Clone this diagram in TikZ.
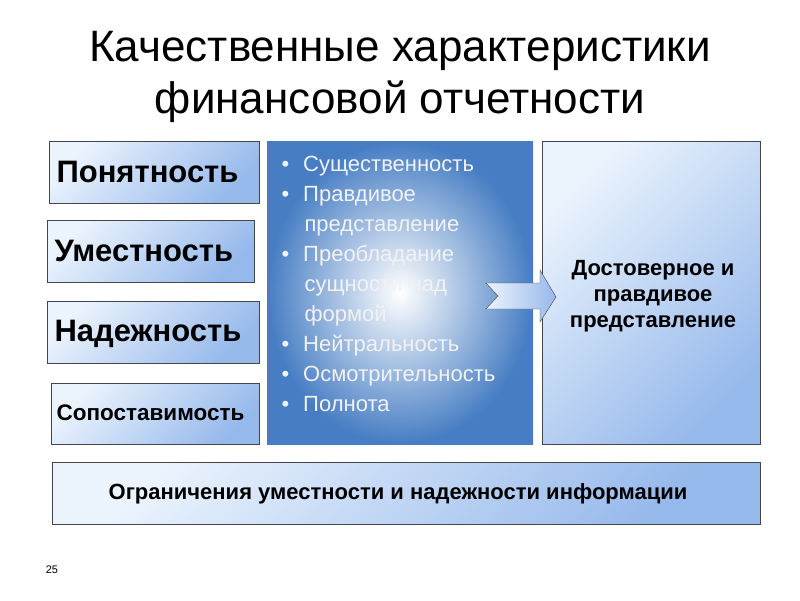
\documentclass[tikz,border=0pt]{standalone}
\usepackage{fontspec}
\setmainfont{Liberation Sans}
\usetikzlibrary{positioning}
\definecolor{boxblue}{RGB}{150,185,235}
\definecolor{deepblue}{RGB}{70,125,195}
\definecolor{paleblue}{RGB}{235,243,253}
\definecolor{edgegray}{RGB}{70,70,70}
\tikzset{
    qualbox/.style={draw=edgegray, thick, left color=paleblue, right color=boxblue, shading angle=45},
    qualtext/.style={font=\fontsize{31}{36}\selectfont\bfseries, anchor=west},
    bullettext/.style={font=\fontsize{22}{30}\selectfont, text=white!90!gray, anchor=north west, align=left, text width=260pt}
}
\begin{document}
\begin{tikzpicture}[x=1pt,y=-1pt]
    \useasboundingbox (0,0) rectangle (800,600);
    % Title
    \node[font=\fontsize{44}{52}\selectfont, align=center] (title) at (400,77) {Качественные характеристики\\финансовой отчетности};

    % Left column
    \shade[qualbox] (49,141) rectangle (259,203);
    \node[qualtext] (clear) at (53,172) {Понятность};
    \shade[qualbox] (47,220) rectangle (254,282);
    \node[qualtext] (relevant) at (51,251) {Уместность};
    \shade[qualbox] (47,301) rectangle (259,363);
    \node[qualtext] (reliable) at (51,334) {Надежность};
    \shade[qualbox] (51,383) rectangle (259,444);
    \node[qualtext, font=\fontsize{22.5}{26}\selectfont\bfseries] (compare) at (53,413) {Сопоставимость};

    % Middle box
    \shade[inner color=white, outer color=deepblue] (267,141) rectangle (533,444);
    \node[bullettext] (list) at (278,153) {%
        \textbullet\hspace{14pt}Существенность\\
        \textbullet\hspace{14pt}Правдивое\\
        \hspace{23pt}представление\\
        \textbullet\hspace{14pt}Преобладание\\
        \hspace{23pt}сущности над\\
        \hspace{23pt}формой\\
        \textbullet\hspace{14pt}Нейтральность\\
        \textbullet\hspace{14pt}Осмотрительность\\
        \textbullet\hspace{14pt}Полнота};

    % Right box
    \shade[qualbox] (542,141) rectangle (760,444);
    \node[font=\fontsize{22}{26}\selectfont\bfseries, align=center] (fair) at (653,296) {Достоверное и\\правдивое\\представление};

    % Notched arrow
    \shade[draw=edgegray, left color=paleblue, right color=boxblue]
        (486,283) -- (540,283) -- (540,270) -- (556,297) -- (540,322) -- (540,309) -- (486,309) -- (498,296) -- cycle;

    % Bottom box
    \shade[qualbox] (52,462) rectangle (760,524);
    \node[font=\fontsize{22}{26}\selectfont\bfseries] (limits) at (398,494) {Ограничения уместности и надежности информации};

    \node[font=\fontsize{11}{13}\selectfont] (page) at (52,570) {25};
\end{tikzpicture}
\end{document}
